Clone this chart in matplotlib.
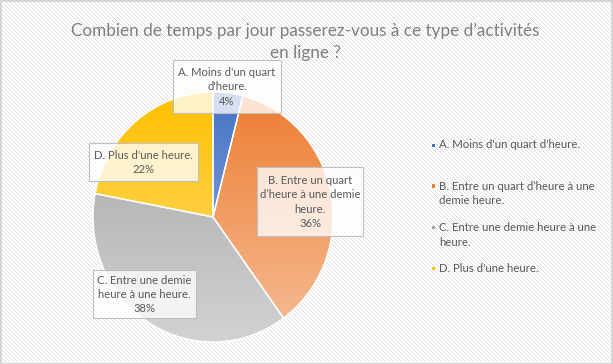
import numpy as np
import matplotlib
matplotlib.use("Agg")
import matplotlib.pyplot as plt
from matplotlib.patches import Rectangle
from matplotlib.colors import to_rgb

plt.rcParams['font.family'] = ['Lato', 'DejaVu Sans']

categories = ["A. Moins d'un quart d'heure.",
              "B. Entre un quart d\u2019heure à une demie heure.",
              "C. Entre une demie heure à une heure.",
              "D. Plus d'une heure."]
values = [4, 36, 38, 22]
pcts = ["4%", "36%", "38%", "22%"]
slice_labels = ["A. Moins d'un quart\nd'heure.",
                "B. Entre un quart\nd\u2019heure à une demie\nheure.",
                "C. Entre une demie\nheure à une heure.",
                "D. Plus d'une heure."]
legend_labels = ["A. Moins d'un quart d'heure.",
                 "B. Entre un quart d\u2019heure à une\ndemie heure.",
                 "C. Entre une demie heure à une\nheure.",
                 "D. Plus d'une heure."]
colors = ["#4472C4", "#ED7D31", "#A5A5A5", "#FFC000"]
title = "Combien de temps par jour passerez-vous à ce type d\u2019activités\nen ligne ?"

W, H = 613, 364
fig = plt.figure(figsize=(W / 100, H / 100), dpi=100)

def fx(px):
    return px / W

def fy(py):
    return 1 - py / H

# background stripes
bg = fig.add_axes([0, 0, 1, 1])
yy, xx = np.mgrid[0:H, 0:W]
stripe = ((xx - yy) % 4 == 0)
img = np.ones((H, W, 3))
img[stripe] = to_rgb("#dedede")
bg.imshow(img, extent=[0, W, H, 0], aspect='auto', interpolation='nearest')
bg.set_xlim(0, W)
bg.set_ylim(H, 0)
bg.axis('off')
fig.patches.append(Rectangle((0.5 / W, 0.5 / H), 1 - 1.5 / W, 1 - 1.5 / H,
                             transform=fig.transFigure, fill=False,
                             edgecolor="#d0d0d0", linewidth=1.2, zorder=0))

# pie axes (slightly elliptical like the reference)
left, right, top, bottom = 93, 333, 92, 342
ax = fig.add_axes([fx(left), fy(bottom), fx(right - left), (bottom - top) / H])
wedges, _ = ax.pie(values, startangle=90, counterclock=False, radius=1,
                   wedgeprops=dict(facecolor='none', edgecolor='white', linewidth=1.0))
ax.set_aspect('auto')
ax.axis('off')

for w, c in zip(wedges, colors):
    base = np.array(to_rgb(c))
    t = np.linspace(0, 1, 256)[:, None]
    light = base + (1 - base) * 0.5
    grad = base * (1 - t) + light * t
    grad = grad[:, None, :]
    im = ax.imshow(grad, extent=[-1, 1, -1, 1], aspect='auto', origin='upper', zorder=1)
    im.set_clip_path(w)
    w.set_zorder(2)

ax.set_xlim(-1, 1)
ax.set_ylim(-1, 1)

# data label boxes (pixel boxes)
boxes = [(173, 60, 281, 113), (257, 167, 363, 236), (93, 270, 196, 318), (89, 143, 198, 181)]
for (x0, y0, x1, y1), lab, p in zip(boxes, slice_labels, pcts):
    fig.patches.append(Rectangle((fx(x0), fy(y1)), fx(x1 - x0), (y1 - y0) / H,
                                 transform=fig.transFigure, facecolor='white', alpha=0.78,
                                 edgecolor='none', zorder=5))
    fig.patches.append(Rectangle((fx(x0), fy(y1)), fx(x1 - x0), (y1 - y0) / H,
                                 transform=fig.transFigure, facecolor='none',
                                 edgecolor='#bfbfbf', linewidth=0.8, zorder=6))
    fig.text(fx((x0 + x1) / 2), fy((y0 + y1) / 2 + 0.5), lab + "\n" + p, ha='center', va='center',
             fontsize=8.1, color='#595959', linespacing=1.36, zorder=7)

# title
fig.text(fx(305), fy(42), title, ha='center', va='center', fontsize=12.3,
         color='#7f7f7f', linespacing=1.45)

# legend
leg_y = [145, 193.5, 235, 268]
for y, lab, c in zip(leg_y, legend_labels, colors):
    nlines = lab.count("\n") + 1
    ytop = y - (nlines - 1) * 7.7
    fig.patches.append(Rectangle((fx(431.5), fy(ytop + 2)), fx(3.5), 3.5 / H,
                                 transform=fig.transFigure, facecolor=c, edgecolor='none'))
    fig.text(fx(439), fy(y), lab, ha='left', va='center', fontsize=8.2,
             color='#595959', linespacing=1.4)

fig.savefig("out.png", dpi=100)
